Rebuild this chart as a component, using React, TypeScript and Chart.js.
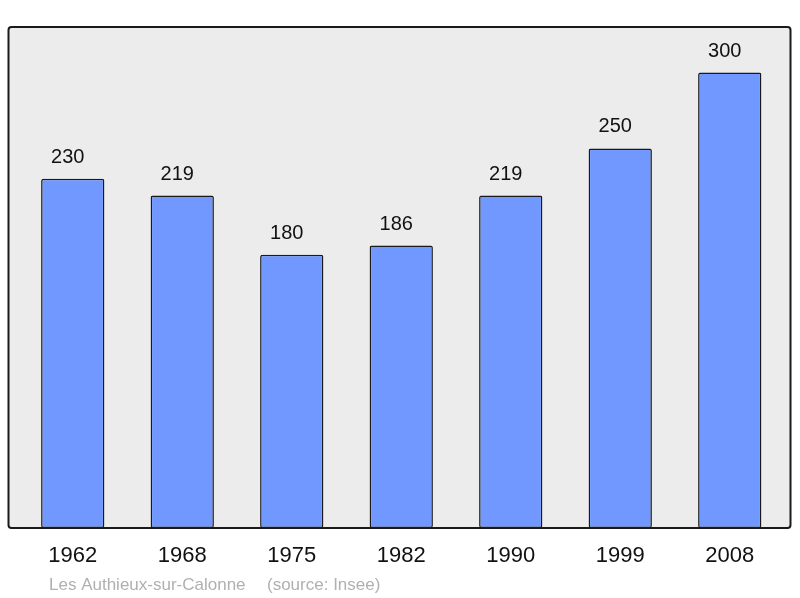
import React, { useEffect, useRef } from "react";
import { Chart, registerables } from "chart.js";

Chart.register(...registerables);

const years = ["1962", "1968", "1975", "1982", "1990", "1999", "2008"];
const population = [230, 219, 180, 186, 219, 250, 300];
const caption = "Les Authieux-sur-Calonne";
const source = "(source: Insee)";

const FONT = "'Liberation Sans', Arial, sans-serif";

const backgroundBox = {
  id: "backgroundBox",
  beforeDraw(chart: any) {
    const { ctx, chartArea } = chart;
    const x0 = chartArea.left - 9.5;
    const x1 = chartArea.right + 6;
    const y0 = chartArea.top;
    const y1 = chartArea.bottom;
    ctx.save();
    ctx.beginPath();
    if (ctx.roundRect) ctx.roundRect(x0, y0, x1 - x0, y1 - y0, 3);
    else ctx.rect(x0, y0, x1 - x0, y1 - y0);
    ctx.fillStyle = "#ececec";
    ctx.fill();
    ctx.lineWidth = 2;
    ctx.strokeStyle = "#1a1a1a";
    ctx.stroke();
    ctx.restore();
  },
  afterDatasetsDraw(chart: any) {
    const { ctx } = chart;
    const meta = chart.getDatasetMeta(0);
    ctx.save();
    ctx.font = `20px ${FONT}`;
    ctx.fillStyle = "#111";
    ctx.textAlign = "left";
    ctx.textBaseline = "alphabetic";
    meta.data.forEach((bar: any, i: number) => {
      ctx.fillText(String(population[i]), bar.x - bar.width / 2 + 10, bar.y - 16);
    });
    ctx.restore();
  },
  afterDraw(chart: any) {
    const { ctx, chartArea } = chart;
    ctx.save();
    ctx.font = `17px ${FONT}`;
    ctx.fillStyle = "#b0b0b0";
    ctx.textAlign = "left";
    ctx.textBaseline = "alphabetic";
    const x = chartArea.left + 31;
    ctx.fillText(caption, x, 590);
    ctx.fillText(source, x + 218, 590);
    ctx.restore();
  },
};

export default function App() {
  const ref = useRef<HTMLCanvasElement | null>(null);
  useEffect(() => {
    if (!ref.current) return;
    const chart = new Chart(ref.current, {
      type: "bar",
      data: {
        labels: years,
        datasets: [
          {
            data: population,
            backgroundColor: "#7098ff",
            borderColor: "#1a1a1a",
            borderWidth: 1.5,
            borderRadius: 2,
            borderSkipped: false,
            categoryPercentage: 1,
            barPercentage: 0.578,
          },
        ],
      },
      options: {
        responsive: false,
        animation: false,
        events: [],
        layout: { padding: { left: 18, right: 15.5, top: 27, bottom: 0 } },
        plugins: { legend: { display: false }, tooltip: { enabled: false } },
        scales: {
          x: {
            offset: true,
            grid: { display: false, drawTicks: false },
            border: { display: false },
            ticks: {
              padding: 15,
              color: "#111",
              font: { family: FONT, size: 22 },
              maxRotation: 0,
            },
            afterFit: (scale: any) => {
              scale.height = 70;
            },
          },
          y: {
            display: false,
            min: 0,
            max: 330,
          },
        },
      },
      plugins: [backgroundBox],
    });
    return () => chart.destroy();
  }, []);
  return (
    <div style={{ position: "fixed", left: 0, top: 0, width: 800, height: 598, background: "#fff" }}>
      <canvas ref={ref} width={800} height={598} style={{ display: "block" }} />
    </div>
  );
}
